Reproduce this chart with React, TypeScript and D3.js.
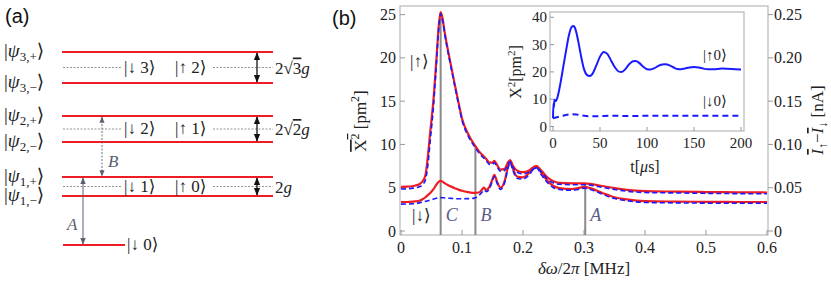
import React from "react";
import * as d3 from "d3";

// ---------- Panel (b) main data ----------
const freq = [0, 0.01, 0.02, 0.03, 0.036, 0.04, 0.044, 0.048, 0.053, 0.058, 0.062, 0.065, 0.068, 0.072, 0.08, 0.088, 0.095, 0.1, 0.11, 0.12, 0.128, 0.133, 0.136, 0.14, 0.145, 0.15, 0.153, 0.157, 0.163, 0.17, 0.176, 0.179, 0.183, 0.19, 0.2, 0.21, 0.218, 0.222, 0.23, 0.24, 0.25, 0.26, 0.28, 0.29, 0.3, 0.31, 0.33, 0.35, 0.37, 0.4, 0.45, 0.5, 0.55, 0.6];
const upRed = [5.1, 5.12, 5.2, 5.4, 5.8, 6.4, 8.6, 11.5, 15.0, 19.8, 23.8, 25.3, 24.6, 22.8, 19.8, 17.0, 14.6, 13.0, 11.2, 10.0, 9.2, 8.8, 8.6, 8.3, 7.9, 7.9, 8.1, 7.7, 7.1, 7.2, 8.0, 8.2, 7.6, 7.0, 6.8, 7.0, 7.4, 7.5, 7.0, 6.2, 5.75, 5.55, 5.5, 5.5, 5.5, 5.45, 5.2, 4.95, 4.75, 4.6, 4.55, 4.5, 4.47, 4.45];
const upBlue = [4.85, 4.88, 4.95, 5.1, 5.4, 5.9, 7.6, 10.5, 14.2, 19.2, 23.5, 25.1, 24.4, 22.6, 19.6, 16.8, 14.4, 12.8, 11.0, 9.8, 9.0, 8.6, 8.4, 8.1, 7.7, 7.7, 7.9, 7.5, 6.9, 7.0, 7.8, 8.0, 7.4, 6.8, 6.6, 6.8, 7.2, 7.3, 6.8, 6.0, 5.55, 5.4, 5.35, 5.35, 5.35, 5.3, 5.05, 4.8, 4.6, 4.45, 4.4, 4.35, 4.32, 4.3];
const dnRed = [3.35, 3.35, 3.4, 3.5, 3.7, 3.9, 4.15, 4.4, 4.8, 5.35, 5.7, 5.8, 5.7, 5.5, 5.2, 4.95, 4.75, 4.65, 4.5, 4.4, 4.45, 4.8, 5.0, 4.75, 5.1, 6.0, 6.5, 5.8, 5.0, 5.8, 7.6, 8.1, 7.3, 6.3, 6.2, 6.7, 7.4, 7.5, 6.7, 5.8, 5.2, 4.95, 4.85, 4.95, 5.1, 4.95, 4.4, 3.9, 3.65, 3.45, 3.4, 3.37, 3.35, 3.35];
const dnBlue = [3.1, 3.12, 3.15, 3.25, 3.35, 3.42, 3.5, 3.58, 3.68, 3.78, 3.84, 3.86, 3.85, 3.82, 3.78, 3.74, 3.72, 3.72, 3.74, 3.8, 4.1, 4.5, 4.75, 4.55, 4.9, 5.8, 6.3, 5.6, 4.8, 5.6, 7.4, 7.9, 7.1, 6.1, 6.0, 6.5, 7.2, 7.3, 6.5, 5.6, 5.0, 4.8, 4.7, 4.8, 4.95, 4.8, 4.25, 3.75, 3.5, 3.3, 3.25, 3.22, 3.2, 3.2];

const xTicks = [0, 0.1, 0.2, 0.3, 0.4, 0.5, 0.6];
const yTicks = [0, 5, 10, 15, 20, 25];
const yRTicks = [0, 0.05, 0.1, 0.15, 0.2, 0.25];
const markerX = [0.065, 0.122, 0.302];
const markerTop = [25.3, 9.8, 5.5];
const markerLabel = ["C", "B", "A"];

// ---------- Inset data ----------
const tUp = [0, 0.5, 1, 1.5, 3, 5, 8, 11, 14, 17, 20, 22, 24, 27, 30, 33, 36, 39, 42, 46, 50, 54, 58, 62, 66, 70, 73, 77, 81, 85, 88, 92, 96, 100, 104, 108, 112, 116, 120, 124, 128, 132, 136, 140, 145, 150, 155, 160, 165, 170, 180, 190, 200];
const xUp = [3.0, 8.5, 7.0, 9.8, 9.3, 11, 16, 22, 28, 33.5, 36.5, 36.8, 35.5, 31, 25.5, 21, 18.9, 18.5, 19.3, 22.3, 25.6, 27.3, 26.5, 24, 21.6, 20.1, 20.0, 21, 22.8, 23.9, 24, 23.2, 21.9, 21.0, 20.9, 21.4, 22.2, 22.7, 22.8, 22.4, 21.7, 21.1, 21.0, 21.2, 21.6, 21.8, 21.6, 21.2, 21.0, 21.0, 21.2, 21.1, 20.9];
const tDn = [0, 5, 10, 15, 20, 25, 30, 35, 40, 50, 60, 70, 80, 100, 150, 200];
const xDn = [3.0, 3.5, 3.9, 4.3, 4.5, 4.4, 4.1, 3.85, 3.75, 3.8, 3.95, 3.9, 3.85, 3.9, 3.9, 3.9];
const tTicks = [0, 50, 100, 150, 200];
const iTicks = [0, 10, 20, 30, 40];

// ---------- Panel (a) data ----------
const levelE = [19.3, 16.2, 12.9, 10.3, 6.8, 4.9];
const levelN = ["3", "3", "2", "2", "1", "1"];
const levelS = ["+", "−", "+", "−", "+", "−"];
const pairDown = ["3", "2", "1"];
const pairUp = ["2", "1", "0"];
const groundE = 0;

const SERIF = "'Liberation Serif', 'DejaVu Serif', serif";
const SANS = "'Liberation Sans', Arial, sans-serif";
const RED = "#ee1d23";
const BLUE = "#1a1aff";
const FRAME = "#b8b8b8";

export default function App() {
  // main scales
  const xS = d3.scaleLinear().domain([0, 0.6]).range([401, 767]);
  const yS = d3.scaleLinear().domain([0, 25]).range([231, 14.6]);
  const yR = d3.scaleLinear().domain([0, 0.25]).range([231, 14.6]);
  const line = d3
    .line<number>()
    .x((_, i) => xS(freq[i]))
    .y((d) => yS(d))
    .curve(d3.curveMonotoneX);

  // inset scales
  const xI = d3.scaleLinear().domain([0, 200]).range([553, 741]);
  const yI = d3.scaleLinear().domain([0, 40]).range([126.5, 17.3]);
  const lineUp = d3
    .line<number>()
    .x((_, i) => xI(tUp[i]))
    .y((d) => yI(d))
    .curve(d3.curveMonotoneX);
  const lineDn = d3
    .line<number>()
    .x((_, i) => xI(tDn[i]))
    .y((d) => yI(d))
    .curve(d3.curveMonotoneX);

  // panel (a) scale
  const yE = d3.scaleLinear().domain([0, 19.3]).range([245, 52]);
  const lx0 = 62;
  const lx1 = 273;
  const arrowX = 257;

  const pairs = [0, 1, 2];

  return (
    <div style={{ position: "absolute", left: 0, top: 0 }}>
      <svg width={831} height={286} viewBox="0 0 831 286" style={{ display: "block", background: "#fff" }}>
        <defs>
          <marker id="ahBlack" viewBox="0 0 10 10" refX="9" refY="5" markerWidth="6" markerHeight="6" orient="auto-start-reverse">
            <path d="M0,1 L10,5 L0,9 z" fill="#111" />
          </marker>
          <marker id="ahGray" viewBox="0 0 10 10" refX="9" refY="5" markerWidth="7" markerHeight="7" orient="auto-start-reverse">
            <path d="M0,1 L10,5 L0,9 z" fill="#5a6070" />
          </marker>
        </defs>

        {/* ================= Panel (a) ================= */}
        <text x={5} y={23} fontFamily={SANS} fontSize={20} fill="#111">(a)</text>

        {levelE.map((e, i) => (
          <g key={"lv" + i}>
            <line x1={lx0} x2={lx1} y1={yE(e)} y2={yE(e)} stroke={RED} strokeWidth={2} />
            <text x={4} y={yE(e) + 5} fontFamily={SERIF} fontSize={19} fill="#222">
              |<tspan fontStyle="italic">ψ</tspan>
              <tspan fontSize={13} dy={4}>{levelN[i]},{levelS[i]}</tspan>
              <tspan dy={-4}>⟩</tspan>
            </text>
          </g>
        ))}

        {pairs.map((p) => {
          const yTop = yE(levelE[p * 2]);
          const yBot = yE(levelE[p * 2 + 1]);
          const ym = (yTop + yBot) / 2;
          return (
            <g key={"pair" + p}>
              <line x1={63} x2={122} y1={ym} y2={ym} stroke="#888" strokeWidth={0.9} strokeDasharray="2,1.5" />
              <line x1={213} x2={273} y1={ym} y2={ym} stroke="#888" strokeWidth={0.9} strokeDasharray="2,1.5" />
              <text x={124} y={ym + 5} fontFamily={SERIF} fontSize={17} fill="#222">|↓ {pairDown[p]}⟩</text>
              <text x={175} y={ym + 5} fontFamily={SERIF} fontSize={17} fill="#222">|↑ {pairUp[p]}⟩</text>
              <line x1={arrowX} x2={arrowX} y1={yTop + 1} y2={yBot - 1} stroke="#111" strokeWidth={1.3}
                markerStart="url(#ahBlack)" markerEnd="url(#ahBlack)" />
              <text x={275} y={ym + 6} fontFamily={SERIF} fontSize={17} fill="#222">
                {p === 2 ? (
                  <>2<tspan fontStyle="italic">g</tspan></>
                ) : (
                  <>2√<tspan textDecoration="overline">{p === 0 ? "3" : "2"}</tspan><tspan fontStyle="italic">g</tspan></>
                )}
              </text>
            </g>
          );
        })}

        {/* ground */}
        <line x1={63} x2={125} y1={yE(groundE)} y2={yE(groundE)} stroke={RED} strokeWidth={2} />
        <text x={127} y={yE(groundE) + 5} fontFamily={SERIF} fontSize={17} fill="#222">|↓ 0⟩</text>

        {/* A arrow */}
        <line x1={83} x2={83} y1={yE(levelE[4]) + 1} y2={yE(groundE) - 1} stroke="#5a6070" strokeWidth={1}
          markerStart="url(#ahGray)" markerEnd="url(#ahGray)" />
        <text x={67} y={230} fontFamily={SERIF} fontStyle="italic" fontSize={17} fill="#5a6070">A</text>
        {/* B arrow */}
        <line x1={102} x2={102} y1={yE(levelE[2]) + 1} y2={yE(levelE[4]) - 1} stroke="#5a6070" strokeWidth={0.9}
          strokeDasharray="2,1.5" markerStart="url(#ahGray)" markerEnd="url(#ahGray)" />
        <text x={108} y={167} fontFamily={SERIF} fontStyle="italic" fontSize={17} fill="#5a6070">B</text>

        {/* ================= Panel (b) ================= */}
        <text x={332} y={25} fontFamily={SANS} fontSize={20} fill="#111">(b)</text>

        {/* frame */}
        <rect x={400} y={6} width={368} height={229} fill="none" stroke={FRAME} strokeWidth={1.2} />

        {/* left ticks */}
        {yTicks.map((t) => (
          <g key={"yt" + t}>
            <line x1={400} x2={405} y1={yS(t)} y2={yS(t)} stroke="#999" />
            <text x={396} y={yS(t) + 5.5} textAnchor="end" fontFamily={SERIF} fontSize={16} fill="#222">{t}</text>
          </g>
        ))}
        {/* right ticks */}
        {yRTicks.map((t) => (
          <g key={"yr" + t}>
            <line x1={768} x2={773} y1={yR(t)} y2={yR(t)} stroke="#999" />
            <text x={774} y={yR(t) + 5.5} fontFamily={SERIF} fontSize={16} fill="#222">{t === 0 ? "0" : d3.format(".2f")(t)}</text>
          </g>
        ))}
        {/* x ticks */}
        {xTicks.map((t) => (
          <g key={"xt" + t}>
            <line x1={xS(t)} x2={xS(t)} y1={235} y2={230} stroke="#999" />
            <text x={xS(t)} y={253} textAnchor="middle" fontFamily={SERIF} fontSize={16} fill="#222">{t === 0 ? "0" : d3.format(".1f")(t)}</text>
          </g>
        ))}

        {/* axis labels */}
        <text x={584} y={274} textAnchor="middle" fontFamily={SERIF} fontSize={17} fill="#222">
          <tspan fontStyle="italic">δω</tspan>/2<tspan fontStyle="italic">π</tspan> [MHz]
        </text>
        <text transform="translate(366,121) rotate(-90)" textAnchor="middle" fontFamily={SERIF} fontSize={17} fill="#222">
          <tspan textDecoration="overline">X<tspan fontSize={12} dy={-7}>2</tspan></tspan>
          <tspan dy={7}> [pm</tspan><tspan fontSize={12} dy={-7}>2</tspan><tspan dy={7}>]</tspan>
        </text>
        <text transform="translate(823,120) rotate(-90)" textAnchor="middle" fontFamily={SERIF} fontSize={17} fill="#222">
          <tspan fontStyle="italic" textDecoration="overline">I</tspan><tspan fontSize={12} dy={4}>↑</tspan>
          <tspan dy={-4}>−</tspan><tspan fontStyle="italic" textDecoration="overline">I</tspan><tspan fontSize={12} dy={4}>↓</tspan>
          <tspan dy={-4}> [nA]</tspan>
        </text>

        {/* markers */}
        {markerX.map((m, i) => (
          <g key={"mk" + i}>
            <line x1={xS(m)} x2={xS(m)} y1={235} y2={yS(markerTop[i])} stroke="#8a8a8a" strokeWidth={2} />
            <text x={xS(m) + 5} y={221} fontFamily={SERIF} fontStyle="italic" fontSize={18} fill="#5c5c8c">{markerLabel[i]}</text>
          </g>
        ))}

        {/* curves */}
        <path d={line(upRed) || ""} fill="none" stroke={RED} strokeWidth={2.2} />
        <path d={line(dnRed) || ""} fill="none" stroke={RED} strokeWidth={2.2} />
        <path d={line(upBlue) || ""} fill="none" stroke={BLUE} strokeWidth={1.6} strokeDasharray="5,3" />
        <path d={line(dnBlue) || ""} fill="none" stroke={BLUE} strokeWidth={1.6} strokeDasharray="5,3" />

        <text x={410} y={67} fontFamily={SERIF} fontSize={17} fill="#222">|↑⟩</text>
        <text x={412} y={221} fontFamily={SERIF} fontSize={17} fill="#222">|↓⟩</text>

        {/* ================= Inset ================= */}
        <rect x={550} y={12} width={194} height={119} fill="#fff" stroke={FRAME} strokeWidth={1.2} />
        {iTicks.map((t) => (
          <g key={"it" + t}>
            <line x1={550} x2={554} y1={yI(t)} y2={yI(t)} stroke="#999" />
            <text x={547} y={yI(t) + 5} textAnchor="end" fontFamily={SERIF} fontSize={15} fill="#222">{t}</text>
          </g>
        ))}
        {tTicks.map((t) => (
          <g key={"tt" + t}>
            <line x1={xI(t)} x2={xI(t)} y1={131} y2={127} stroke="#999" />
            <text x={xI(t)} y={148} textAnchor="middle" fontFamily={SERIF} fontSize={15} fill="#222">{t}</text>
          </g>
        ))}
        <text x={645} y={172} textAnchor="middle" fontFamily={SERIF} fontSize={16} fill="#222">
          t[<tspan fontStyle="italic">μ</tspan>s]
        </text>
        <text transform="translate(521,72) rotate(-90)" textAnchor="middle" fontFamily={SERIF} fontSize={16} fill="#222">
          X<tspan fontSize={11} dy={-6}>2</tspan><tspan dy={6}>[pm</tspan><tspan fontSize={11} dy={-6}>2</tspan><tspan dy={6}>]</tspan>
        </text>
        <path d={lineUp(xUp) || ""} fill="none" stroke={BLUE} strokeWidth={2} />
        <path d={lineDn(xDn) || ""} fill="none" stroke={BLUE} strokeWidth={2} strokeDasharray="6,4" />
        <text x={703} y={60} fontFamily={SERIF} fontSize={15} fill="#222">|↑0⟩</text>
        <text x={703} y={106} fontFamily={SERIF} fontSize={15} fill="#222">|↓0⟩</text>
      </svg>
    </div>
  );
}
